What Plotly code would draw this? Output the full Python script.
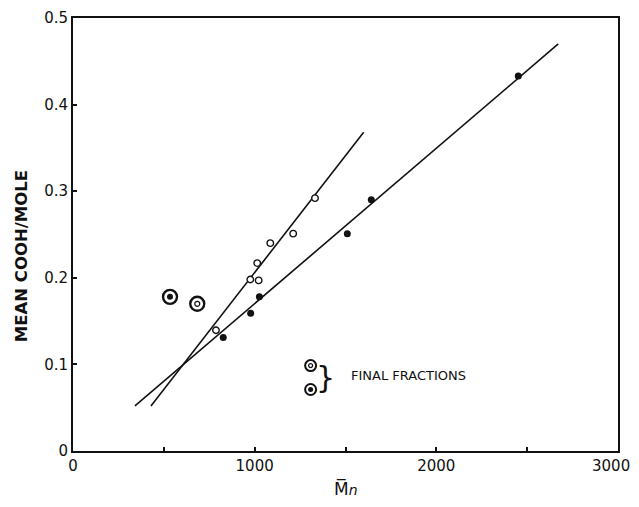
import plotly.graph_objects as go

# Open circles (series 1)
open_x = [787, 976, 1014, 1022, 1086, 1212, 1332]
open_y = [0.1395, 0.198, 0.217, 0.197, 0.240, 0.251, 0.292]
# Filled circles (series 2)
fill_x = [827, 978, 1026, 1510, 1642, 2451]
fill_y = [0.131, 0.159, 0.178, 0.251, 0.290, 0.433]
# Final fractions
final_fill_x = [534]
final_fill_y = [0.178]
final_open_x = [684]
final_open_y = [0.170]
# Fit lines (end points)
steep_x = [429, 1600]
steep_y = [0.052, 0.368]
shallow_x = [341, 2671]
shallow_y = [0.052, 0.470]
# Legend key markers
key_open_x, key_open_y = [1308], [0.0986]
key_fill_x, key_fill_y = [1308], [0.071]

x_ticks = [0, 500, 1000, 1500, 2000, 2500, 3000]
x_labels = ["0", "", "1000", "", "2000", "", ""]
x_last_label = "3000"
y_ticks = [0, 0.1, 0.2, 0.3, 0.4, 0.5]
y_labels = ["0", "0.1", "0.2", "0.3", "0.4", "0.5"]

FONT = "DejaVu Sans"
BLACK = "#111111"

fig = go.Figure()
fig.add_trace(go.Scatter(x=steep_x, y=steep_y, mode="lines",
                         line=dict(color=BLACK, width=1.6)))
fig.add_trace(go.Scatter(x=shallow_x, y=shallow_y, mode="lines",
                         line=dict(color=BLACK, width=1.6)))
fig.add_trace(go.Scatter(x=open_x, y=open_y, mode="markers",
                         marker=dict(symbol="circle", size=6.5, color="white",
                                     line=dict(color=BLACK, width=1.4))))
fig.add_trace(go.Scatter(x=fill_x, y=fill_y, mode="markers",
                         marker=dict(symbol="circle", size=7, color=BLACK,
                                     line=dict(width=0))))
# final fractions: outer rings
fig.add_trace(go.Scatter(x=final_fill_x + final_open_x, y=final_fill_y + final_open_y,
                         mode="markers",
                         marker=dict(symbol="circle-open", size=14, color=BLACK,
                                     line=dict(color=BLACK, width=2.4))))
fig.add_trace(go.Scatter(x=final_fill_x, y=final_fill_y, mode="markers",
                         marker=dict(symbol="circle", size=6, color=BLACK, line=dict(width=0))))
fig.add_trace(go.Scatter(x=final_open_x, y=final_open_y, mode="markers",
                         marker=dict(symbol="circle-open", size=5, color=BLACK,
                                     line=dict(color=BLACK, width=1.2))))
# key markers
fig.add_trace(go.Scatter(x=key_open_x + key_fill_x, y=key_open_y + key_fill_y,
                         mode="markers",
                         marker=dict(symbol="circle-open", size=11, color=BLACK,
                                     line=dict(color=BLACK, width=2))))
fig.add_trace(go.Scatter(x=key_open_x, y=key_open_y, mode="markers",
                         marker=dict(symbol="circle-open", size=4, color=BLACK,
                                     line=dict(color=BLACK, width=1.2))))
fig.add_trace(go.Scatter(x=key_fill_x, y=key_fill_y, mode="markers",
                         marker=dict(symbol="circle", size=5, color=BLACK, line=dict(width=0))))

fig.add_annotation(x=1392, y=0.085, text="}", showarrow=False, xanchor="center",
                   yanchor="middle", font=dict(family=FONT, size=30, color=BLACK))
fig.add_annotation(x=1520, y=0.0875, text="FINAL FRACTIONS", showarrow=False,
                   xanchor="left", yanchor="middle",
                   font=dict(family=FONT, size=13, color=BLACK))

# last x tick label, kept inside the visible page
fig.add_annotation(xref="paper", yref="paper", x=1, y=0, xshift=13, yshift=-14.5,
                   text=x_last_label, showarrow=False, xanchor="right", yanchor="middle",
                   borderpad=0, font=dict(family=FONT, size=15, color=BLACK))

# axis titles
fig.add_annotation(xref="paper", yref="paper", x=0, y=0.45, xshift=-52,
                   text="<b>MEAN COOH/MOLE</b>", textangle=-90, showarrow=False,
                   xanchor="center", yanchor="middle",
                   font=dict(family=FONT, size=16.5, color=BLACK))
fig.add_annotation(xref="paper", yref="paper", x=0.5, y=0, yshift=-37,
                   text="M\u0305<span style='font-size:14px'><i>n</i></span>",
                   showarrow=False, xanchor="center", yanchor="middle",
                   font=dict(family=FONT, size=17, color=BLACK))

fig.update_layout(
    width=639, height=491,
    margin=dict(l=65, r=29, t=10, b=48),
    paper_bgcolor="white", plot_bgcolor="white",
    showlegend=False,
    font=dict(family=FONT, color=BLACK, size=12),
)
fig.update_xaxes(range=[0, 3000], tickvals=x_ticks, ticktext=x_labels, automargin=False,
                 ticks="inside", ticklen=4, tickwidth=1.5, tickcolor=BLACK,
                 showgrid=False, zeroline=False, showline=True, linecolor=BLACK,
                 linewidth=2, mirror=True,
                 tickfont=dict(family=FONT, size=15, color=BLACK))
fig.update_yaxes(range=[0, 0.5], tickvals=y_ticks, ticktext=y_labels, automargin=False,
                 ticks="inside", ticklen=4, tickwidth=1.5, tickcolor=BLACK,
                 showgrid=False, zeroline=False, showline=True, linecolor=BLACK,
                 linewidth=2, mirror=True,
                 tickfont=dict(family=FONT, size=15, color=BLACK))

fig.write_html("out.html")
